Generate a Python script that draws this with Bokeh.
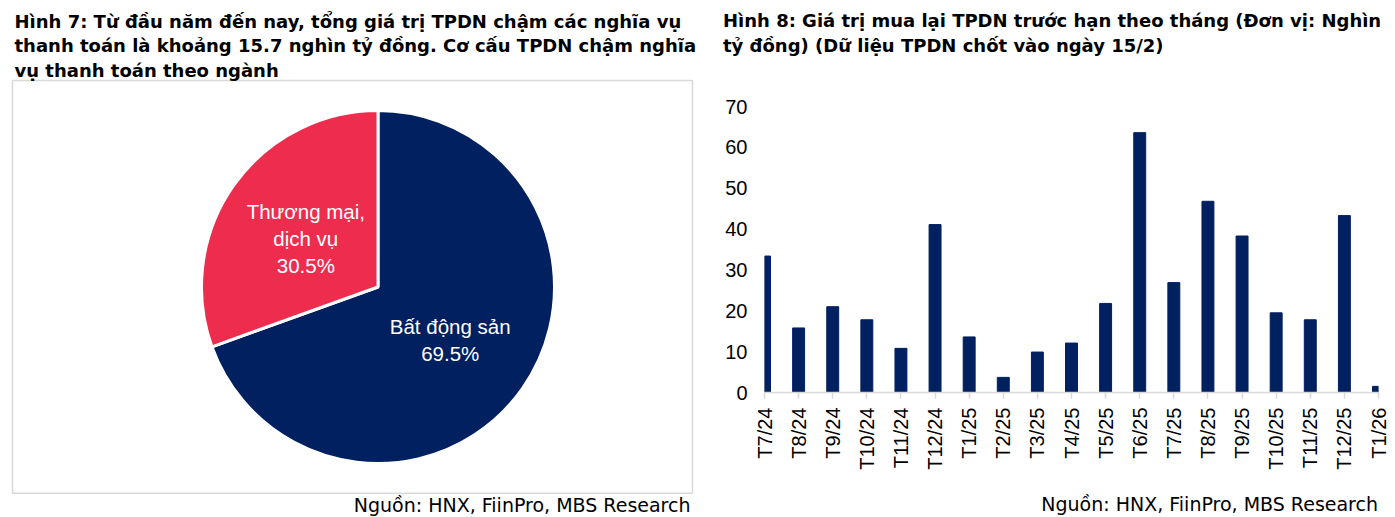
import math
from bokeh.plotting import figure
from bokeh.layouts import row, column
from bokeh.models import Range1d, Label, FixedTicker, ColumnDataSource, Div
from bokeh.core.properties import value
from bokeh.embed import file_html
from bokeh.resources import INLINE

FONT = "Liberation Sans"
TFONT = "DejaVu Sans"
NAVY = "#002060"
RED = "#EE2D4E"

# ---------------- data ----------------
pie_labels = ["Bất động sản", "Thương mại,\ndịch vụ"]
pie_values = [69.5, 30.5]
pie_colors = [NAVY, RED]

months = ["T7/24", "T8/24", "T9/24", "T10/24", "T11/24", "T12/24",
          "T1/25", "T2/25", "T3/25", "T4/25", "T5/25", "T6/25",
          "T7/25", "T8/25", "T9/25", "T10/25", "T11/25", "T12/25", "T1/26"]
buyback = [33.4, 15.8, 21.0, 17.8, 10.8, 41.1,
           13.6, 3.7, 9.9, 12.1, 21.8, 63.6,
           26.9, 46.8, 38.3, 19.5, 17.8, 43.3, 1.5]

title_left = ["Hình 7: Từ đầu năm đến nay, tổng giá trị TPDN chậm các nghĩa vụ",
              "thanh toán là khoảng 15.7 nghìn tỷ đồng. Cơ cấu TPDN chậm nghĩa",
              "vụ thanh toán theo ngành"]
title_right = ["Hình 8: Giá trị mua lại TPDN trước hạn theo tháng (Đơn vị: Nghìn",
               "tỷ đồng) (Dữ liệu TPDN chốt vào ngày 15/2)"]
source_text = "Nguồn: HNX, FiinPro, MBS Research"

H = 517
WL = 700
WR = 695

# ---------------- left: pie ----------------
p1 = figure(width=WL, height=H, x_range=Range1d(0, WL), y_range=Range1d(0, H),
            x_axis_location=None, y_axis_location=None, toolbar_location=None,
            output_backend="svg", min_border=0, frame_align=False)
p1.outline_line_color = None
p1.grid.visible = False

cx, cy, R = 377.5, 230.5, 176.5
total = sum(pie_values)
starts, ends, lx, ly, texts = [], [], [], [], []
cum = 0.0
for lab, v in zip(pie_labels, pie_values):
    end = math.pi / 2 - 2 * math.pi * cum / total
    start = end - 2 * math.pi * v / total
    starts.append(start)
    ends.append(end)
    mid = (start + end) / 2
    lx.append(cx + 0.5 * R * math.cos(mid))
    ly.append(cy + 0.5 * R * math.sin(mid) - 2)
    texts.append(f"{lab}\n{v:.1f}%")
    cum += v

src = ColumnDataSource(dict(start=starts, end=ends, color=pie_colors,
                            lx=lx, ly=ly, text=texts))
p1.wedge(x=cx, y=cy, radius=R, start_angle="start", end_angle="end",
         fill_color="color", line_color="white", line_width=3, source=src)
p1.text(x="lx", y="ly", text="text", source=src, text_color="white",
        text_font=value(FONT), text_font_size="20.5px", text_align="center",
        text_baseline="middle", text_line_height=1.18)

p1.quad(left=12, right=692, bottom=24.3, top=437, fill_color=None,
        line_color="#d9d9d9", line_width=1.5)

for i, t in enumerate(title_left):
    p1.add_layout(Label(x=14, y=496.2 - 24.5 * i, x_units="screen", y_units="screen",
                        text=t, text_font=TFONT, text_font_size="18px",
                        text_font_style="bold", text_color="black",
                        text_baseline="alphabetic"))
p1.add_layout(Label(x=690, y=12.8, x_units="screen", y_units="screen",
                    text=source_text, text_font=TFONT, text_font_size="19px",
                    text_color="black", text_align="right",
                    text_baseline="alphabetic"))

# ---------------- right: bars ----------------
xs = list(range(len(months)))
p2 = figure(width=WR, height=430, x_range=Range1d(0, len(months) - 1),
            y_range=Range1d(0, 70), toolbar_location=None, output_backend="svg",
            min_border_left=64, min_border_right=17, min_border_top=46,
            min_border_bottom=98, frame_align=False)
p2.outline_line_color = None
p2.grid.visible = False
p2.vbar(x=xs, top=buyback, width=0.35, color=NAVY)

p2.yaxis.ticker = FixedTicker(ticks=list(range(0, 71, 10)))
p2.yaxis.axis_line_color = None
p2.yaxis.major_tick_line_color = None
p2.yaxis.minor_tick_line_color = None
p2.yaxis.major_tick_out = 0
p2.yaxis.major_tick_in = 0
p2.yaxis.major_label_standoff = 17
p2.yaxis.major_label_text_font = FONT
p2.yaxis.major_label_text_font_size = "20px"
p2.yaxis.major_label_text_color = "black"

p2.xaxis.ticker = FixedTicker(ticks=xs)
p2.xaxis.major_label_overrides = {i: m for i, m in enumerate(months)}
p2.xaxis.major_label_orientation = math.pi / 2
p2.xaxis.axis_line_color = "#d9d9d9"
p2.xaxis.axis_line_width = 1.5
p2.xaxis.major_tick_line_color = "#d9d9d9"
p2.xaxis.major_tick_line_width = 1.5
p2.xaxis.major_tick_out = 6
p2.xaxis.major_tick_in = 0
p2.xaxis.minor_tick_line_color = None
p2.xaxis.major_label_standoff = 9
p2.xaxis.major_label_text_font = FONT
p2.xaxis.major_label_text_font_size = "20px"
p2.xaxis.major_label_text_color = "black"

div_title = Div(text="<br>".join(title_right), width=WR - 23, height=51,
                margin=(9, 0, 0, 23),
                styles={"font-family": TFONT, "font-size": "18px",
                        "font-weight": "bold", "line-height": "24.5px",
                        "color": "black", "white-space": "nowrap"})
div_src = Div(text=source_text, width=WR - 17, height=23, margin=(4, 17, 0, 0),
              styles={"font-family": TFONT, "font-size": "19px",
                      "line-height": "20px", "color": "black",
                      "text-align": "right", "white-space": "nowrap"})

layout = row(p1, column(div_title, p2, div_src, spacing=0), spacing=0)
open("out.html", "w").write(file_html(layout, INLINE))
